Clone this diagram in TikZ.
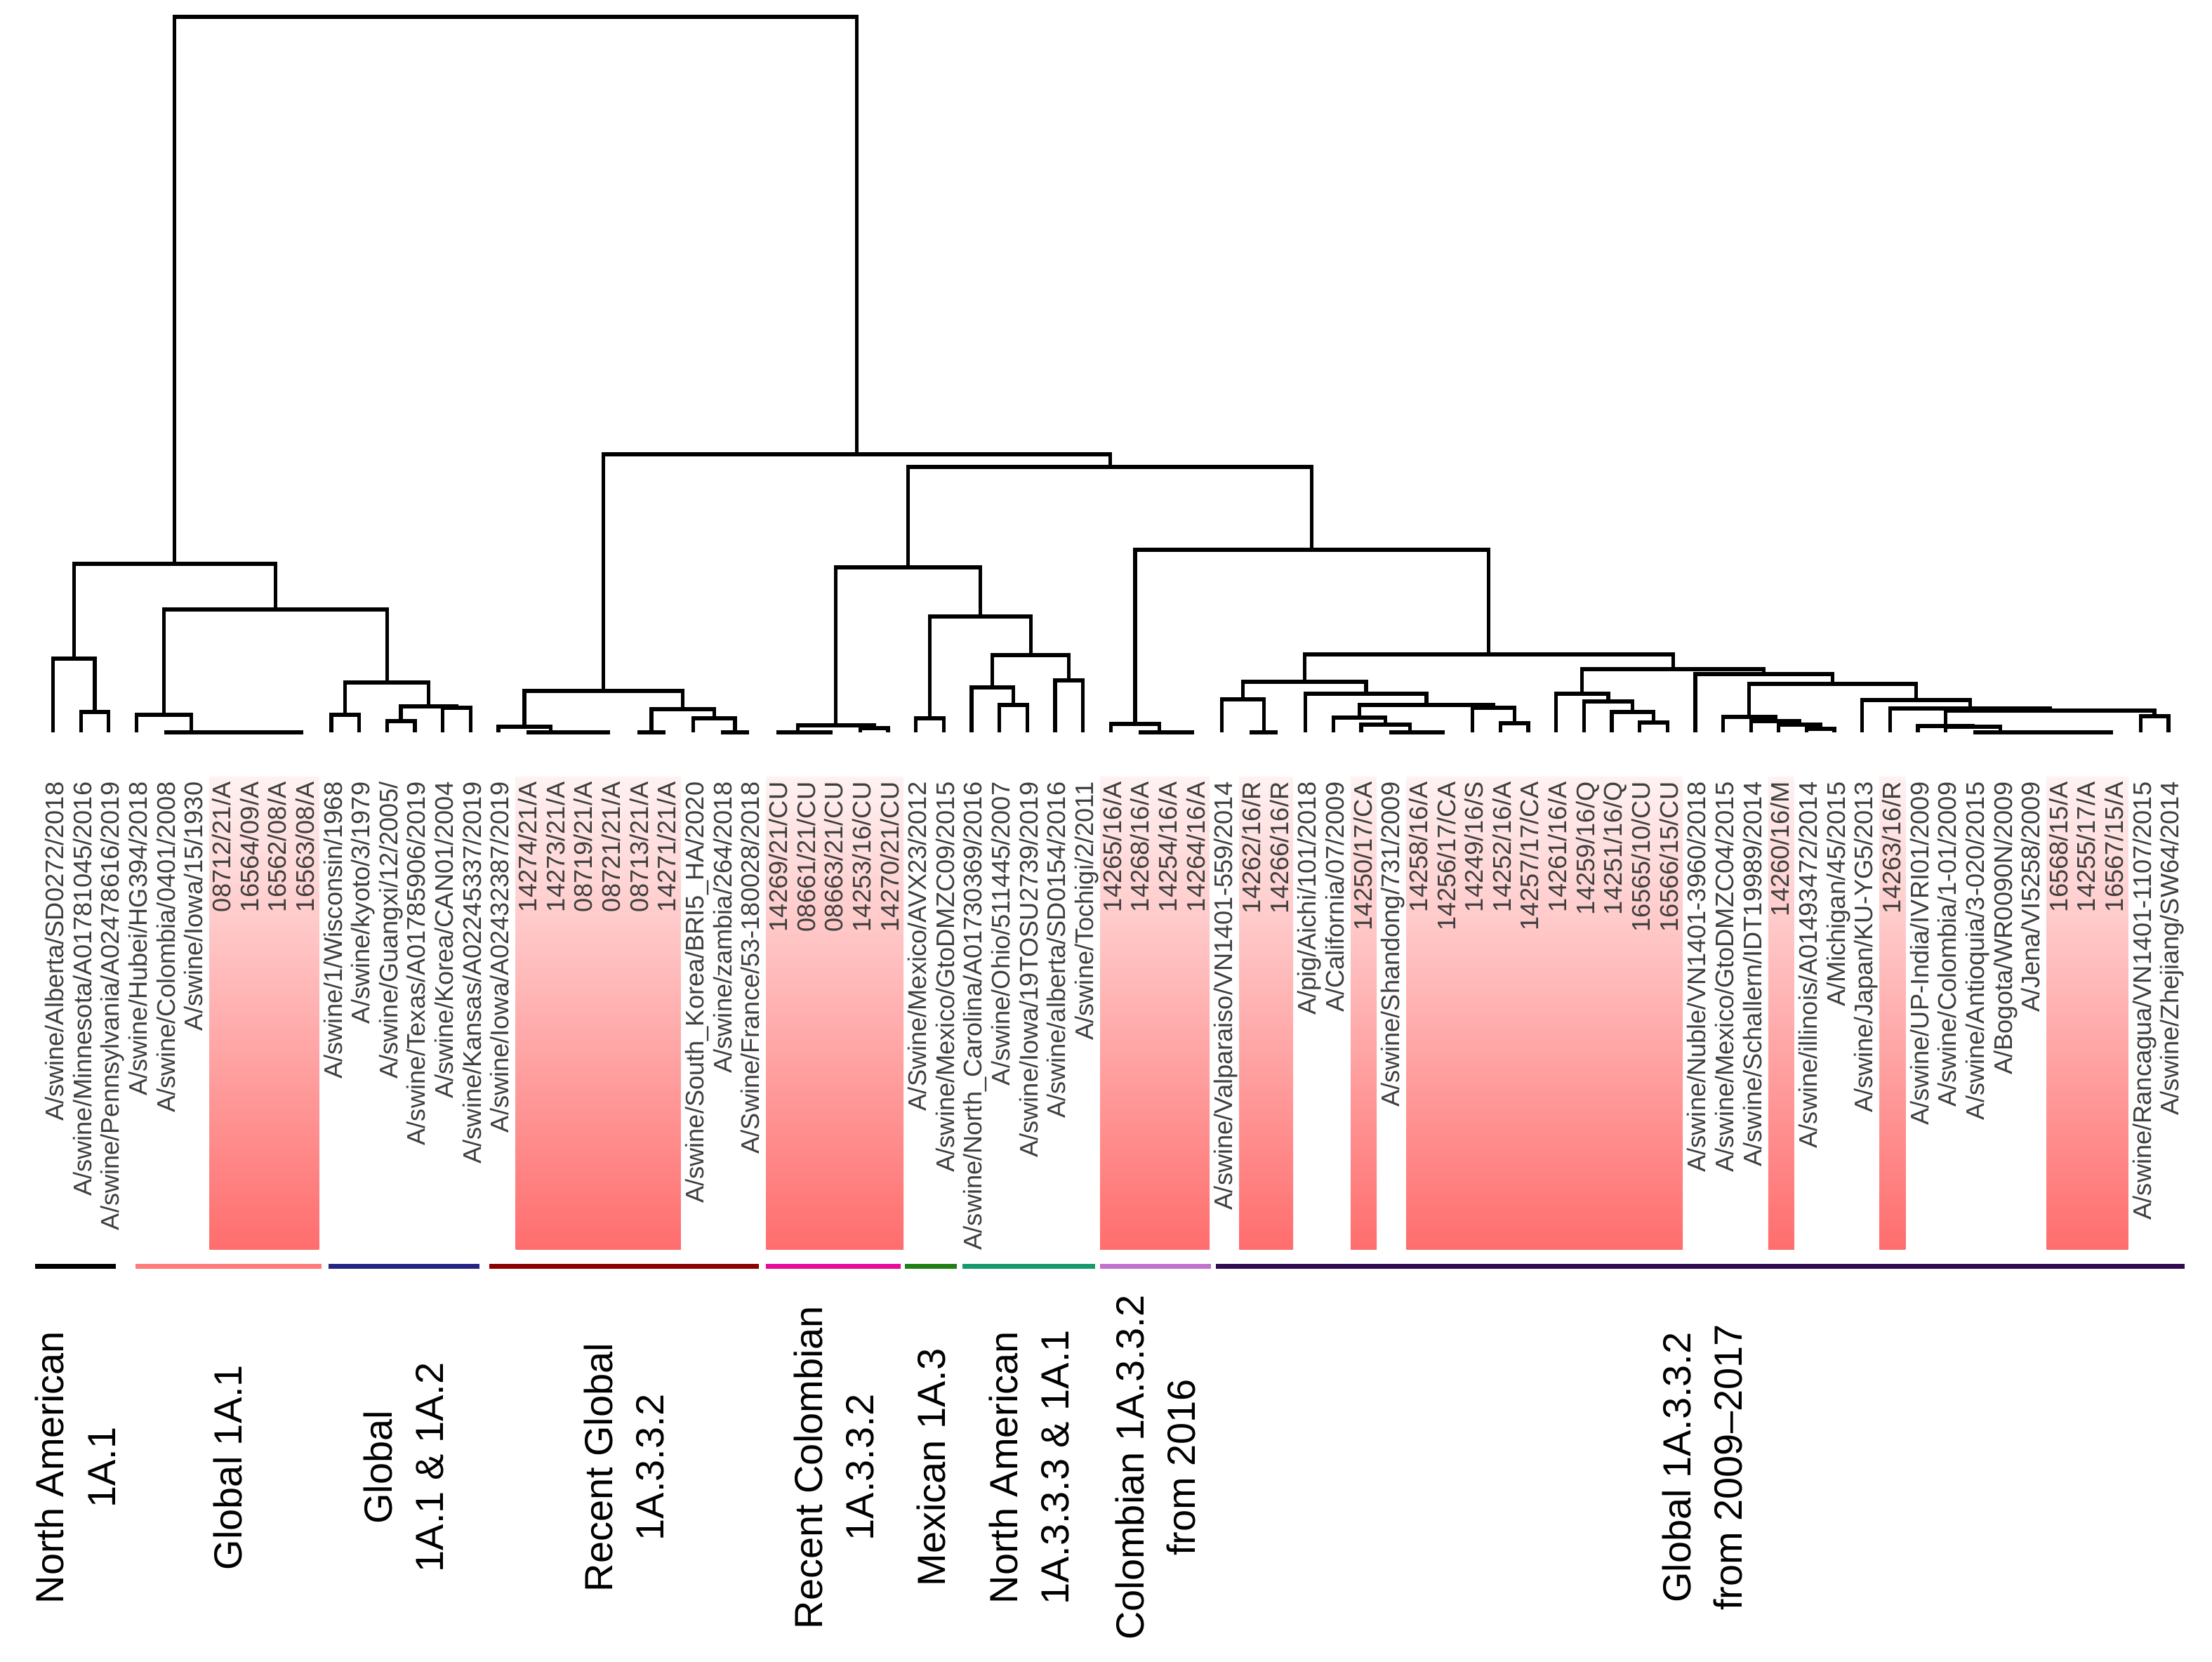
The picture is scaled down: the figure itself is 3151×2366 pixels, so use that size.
\documentclass[tikz,border=0pt]{standalone}
\usepackage{fontspec}
\setmainfont{Liberation Sans}
\definecolor{labgray}{HTML}{3F3F3F}
\definecolor{gA}{HTML}{000000}
\definecolor{gB}{HTML}{FF7B7B}
\definecolor{gC}{HTML}{242484}
\definecolor{gD}{HTML}{8B0000}
\definecolor{gE}{HTML}{E80A98}
\definecolor{gF}{HTML}{207F14}
\definecolor{gG}{HTML}{16996B}
\definecolor{gH}{HTML}{C172CD}
\definecolor{gI}{HTML}{300B52}
\definecolor{pinktop}{HTML}{FFF2F2}
\definecolor{pinkbot}{HTML}{FF6D6D}
\def\X#1{75.5+39.65*(#1-1)}
\tikzset{
  tree/.style={line width=1.5pt, black},
  leaflab/.style={rotate=90, anchor=base east, inner sep=0pt, text=labgray, font=\fontsize{10.3}{12}\selectfont},
  grouplab/.style={rotate=90, align=center, inner sep=0pt, font=\fontsize{15.9}{21}\selectfont},
  gbar/.style={line width=2pt},
  hl/.style={top color=pinktop, bottom color=pinkbot, draw=none}
}
\begin{document}
\begin{tikzpicture}[x=0.01cm,y=-0.01cm]
\useasboundingbox (0,0) rectangle (3151,2366);
% highlight boxes
\foreach \a/\b in {7/10,18/23,27/31,39/42,44/45,48/48,50/59,63/63,67/67,73/75}
  \shade[hl] ({\X{\a}-15},1106) rectangle ({\X{\b}+22},1779);
% leaves and labels
\foreach \t [count=\i] in {
A/swine/Alberta/SD0272/2018,
A/swine/Minnesota/A01781045/2016,
A/swine/Pennsylvania/A02478616/2019,
A/swine/Hubei/HG394/2018,
A/swine/Colombia/0401/2008,
A/swine/Iowa/15/1930,
08712/21/A,
16564/09/A,
16562/08/A,
16563/08/A,
A/swine/1/Wisconsin/1968,
A/swine/kyoto/3/1979,
A/swine/Guangxi/12/2005/,
A/swine/Texas/A01785906/2019,
A/swine/Korea/CAN01/2004,
A/swine/Kansas/A02245337/2019,
A/swine/Iowa/A02432387/2019,
14274/21/A,
14273/21/A,
08719/21/A,
08721/21/A,
08713/21/A,
14271/21/A,
A/swine/South\_Korea/BRI5\_HA/2020,
A/swine/zambia/264/2018,
A/Swine/France/53-180028/2018,
14269/21/CU,
08661/21/CU,
08663/21/CU,
14253/16/CU,
14270/21/CU,
A/Swine/Mexico/AVX23/2012,
A/swine/Mexico/GtoDMZC09/2015,
A/swine/North\_Carolina/A01730369/2016,
A/swine/Ohio/511445/2007,
A/swine/Iowa/19TOSU2739/2019,
A/swine/alberta/SD0154/2016,
A/swine/Tochigi/2/2011,
14265/16/A,
14268/16/A,
14254/16/A,
14264/16/A,
A/swine/Valparaiso/VN1401-559/2014,
14262/16/R,
14266/16/R,
A/pig/Aichi/101/2018,
A/California/07/2009,
14250/17/CA,
A/swine/Shandong/731/2009,
14258/16/A,
14256/17/CA,
14249/16/S,
14252/16/A,
14257/17/CA,
14261/16/A,
14259/16/Q,
14251/16/Q,
16565/10/CU,
16566/15/CU,
A/swine/Nuble/VN1401-3960/2018,
A/swine/Mexico/GtoDMZC04/2015,
A/swine/Schallern/IDT19989/2014,
14260/16/M,
A/swine/illinois/A01493472/2014,
A/Michigan/45/2015,
A/swine/Japan/KU-YG5/2013,
14263/16/R,
A/swine/UP-India/IVRI01/2009,
A/swine/Colombia/1-01/2009,
A/swine/Antioquia/3-020/2015,
A/Bogota/WR0090N/2009,
A/Jena/VI5258/2009,
16568/15/A,
14255/17/A,
16567/15/A,
A/swine/Rancagua/VN1401-1107/2015,
A/swine/Zhejiang/SW64/2014}{
  \coordinate (l\i) at ({\X{\i}},1043);
  \node[leaflab] (lab\i) at ({\X{\i}+15},1113) {\t};
}
% internal nodes: name / index position / height / child / child
\foreach \p/\c/\h/\a/\b in {
p23/2.5/1014/l2/l3, p13/1.75/938/l1/p23,
p910/9.5/1043/l9/l10, p810/8.75/1043/l8/p910, p710/7.875/1043/l7/p810,
p610/6.9375/1043/l6/p710, p510/5.96875/1043/l5/p610, p410/4.984375/1018/l4/p510,
p1112/11.5/1018/l11/l12, p1314/13.5/1027/l13/l14, p1516/15.5/1008/l15/l16,
p1316/14.5/1006/p1314/p1516, p1116/13/972/p1112/p1316,
p416/8.9921875/868/p410/p1116, pL/5.37109375/803/p13/p416,
p2021/20.5/1043/l20/l21, p1921/19.75/1043/l19/p2021, p1821/18.875/1043/l18/p1921,
p1721/17.9375/1035/l17/p1821, p2223/22.5/1043/l22/l23, p2526/25.5/1043/l25/l26,
p2426/24.75/1023/l24/p2526, p2226/23.625/1010/p2223/p2426, pRa/20.78125/984/p1721/p2226,
p2829/28.5/1043/l28/l29, p2729/27.75/1043/l27/p2829, p3031/30.5/1037/l30/l31,
p2731/29.125/1033/p2729/p3031, p3233/32.5/1023/l32/l33, p3536/35.5/1004/l35/l36,
p3436/34.75/979/l34/p3536, p3738/37.5/969/l37/l38, p3438/36.125/933/p3436/p3738,
p3238/34.3125/878/p3233/p3438, pRb/31.71875/808/p2731/p3238,
p4142/41.5/1043/l41/l42, p4042/40.75/1043/l40/p4142, p3942/39.875/1031/l39/p4042,
p4445/44.5/1043/l44/l45, p4345/43.75/996/l43/p4445,
p5051/50.5/1043/l50/l51, p4951/49.75/1043/l49/p5051, p4851/48.875/1032/l48/p4951,
p4751/47.9375/1022/l47/p4851, p5354/53.5/1030/l53/l54, p5254/52.75/1008/l52/p5354,
p4754/50.34375/1004/p4751/p5254, p4654/48.171875/988/l46/p4754,
p4354/45.9609375/971/p4345/p4654,
p5859/58.5/1029/l58/l59, p5759/57.75/1014/l57/p5859, p5659/56.875/999/l56/p5759,
p5559/55.9375/988/l55/p5659,
p6465/64.5/1038/l64/l65, p6365/63.75/1032/l63/p6465, p6265/62.875/1027/l62/p6365,
p6165/61.9375/1021/l61/p6265,
p7475/74.5/1043/l74/l75, p7375/73.75/1043/l73/p7475, p7275/72.875/1043/l72/p7375,
p7175/71.9375/1043/l71/p7275, p7075/70.96875/1043/l70/p7175,
p6975/69.984375/1035/l69/p7075, p6875/68.9921875/1034/l68/p6975,
p7677/76.5/1020/l76/l77, p6877/72.74609375/1012/p6875/p7677,
p6777/69.873046875/1009/l67/p6877, p6677/67.9365234/997/l66/p6777,
p6177/64.9370117/974/p6165/p6677, p6077/62.4685059/960/l60/p6177,
p5577/59.2030029/953/p5559/p6077, p4377/52.5819702/932/p4354/p5577,
pRc/46.2284851/783/p3942/p4377, pRd/38.9735926/665/pRb/pRc,
pR/29.8774213/647/pRa/pRd, root/17.6242563/24/pL/pR}{
  \coordinate (\p) at ({\X{\c}},\h);
  \draw[tree] (\a) |- (\p) -| (\b);
}
% group bars
\foreach \a/\b/\c in {50/165/gA,193/458/gB,468/683/gC,697/1081/gD,1091/1283/gE,
  1289/1363/gF,1371/1560/gG,1567/1725/gH,1732/3112/gI}
  \draw[gbar,\c] (\a,1803) -- (\b,1803);
% group labels
\node[grouplab] (g1) at (107,2090) {North American\\1A.1};
\node[grouplab] (g2) at (325,2090) {Global 1A.1};
\node[grouplab] (g3) at (575,2090) {Global\\1A.1 \& 1A.2};
\node[grouplab] (g4) at (889,2090) {Recent Global\\1A.3.3.2};
\node[grouplab] (g5) at (1188,2090) {Recent Colombian\\1A.3.3.2};
\node[grouplab] (g6) at (1326,2090) {Mexican 1A.3};
\node[grouplab] (g7) at (1466,2090) {North American\\1A.3.3.3 \& 1A.1};
\node[grouplab] (g8) at (1646,2090) {Colombian 1A.3.3.2\\from 2016};
\node[grouplab] (g9) at (2425,2090) {Global 1A.3.3.2\\from 2009–2017};
\end{tikzpicture}
\end{document}
